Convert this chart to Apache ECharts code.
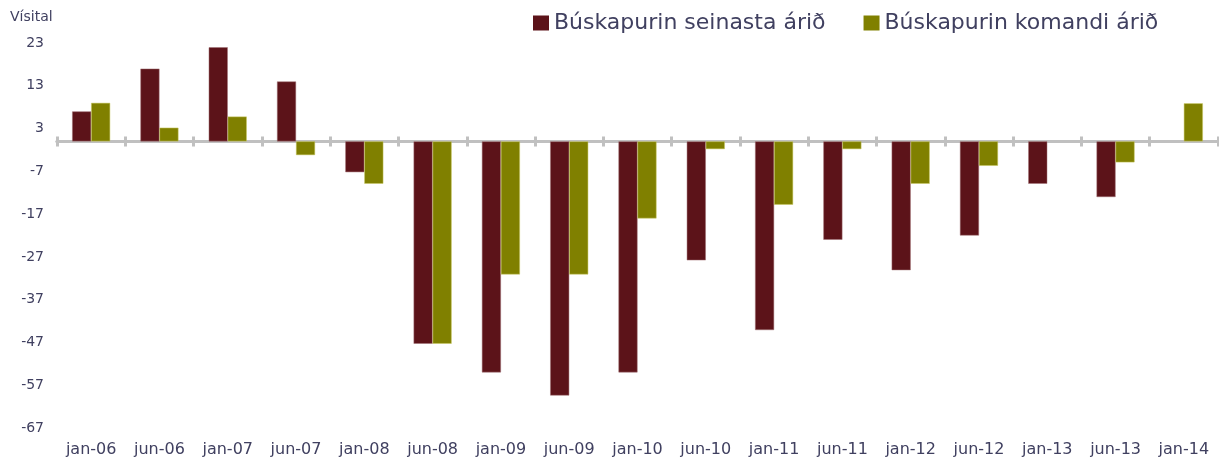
<!DOCTYPE html>
<html>
<head>
<meta charset="utf-8">
<script src="https://cdn.jsdelivr.net/npm/echarts@6/dist/echarts.min.js"></script>
<style>
html,body{margin:0;padding:0;background:#fff;}
#chart{width:1219px;height:461px;}
</style>
</head>
<body>
<div id="chart"></div>
<script>
var categories = ['jan-06','jun-06','jan-07','jun-07','jan-08','jun-08','jan-09','jun-09','jan-10','jun-10','jan-11','jun-11','jan-12','jun-12','jan-13','jun-13','jan-14'];
var seinasta = [7, 17, 22, 14, -7.2, -47.3, -54, -59.4, -54, -27.8, -44.1, -23, -30.1, -22, -9.9, -13, null];
var komandi = [9, 3.2, 5.8, -3.2, -9.9, -47.3, -31.1, -31.1, -18, -1.8, -14.8, -1.8, -9.9, -5.7, null, -4.9, 8.9];
var seriesNames = ['Búskapurin seinasta árið', 'Búskapurin komandi árið'];
var yMin = -67, yMax = 23, yStep = 10;

var textColor = '#404060';
var chart = echarts.init(document.getElementById('chart'));
chart.setOption({
  animation: false,
  title: {
    text: 'Vísital', left: 5, top: 5,
    textStyle: {fontFamily: 'DejaVu Sans', fontSize: 14, fontWeight: 'normal', color: textColor}
  },
  legend: {
    top: 7, left: 528, itemWidth: 16, itemHeight: 15, itemGap: 38, icon: 'rect',
    itemStyle: {borderWidth: 0},
    textStyle: {fontFamily: 'DejaVu Sans', fontSize: 22, color: textColor},
    data: seriesNames
  },
  grid: {left: 57, right: 1, top: 43, bottom: 33, containLabel: false, outerBoundsMode: 'none'},
  xAxis: [
    {
      type: 'category', data: categories, position: 'bottom',
      axisLine: {show: false, onZero: false}, axisTick: {show: false},
      axisLabel: {margin: 14, fontFamily: 'DejaVu Sans', fontSize: 16, color: textColor, interval: 0}
    },
    {
      type: 'category', data: categories, position: 'bottom',
      axisLine: {onZero: true, onZeroAxisIndex: 0, lineStyle: {color: '#c0c0c0', width: 3}},
      axisTick: {show: true, length: 5, lineStyle: {color: '#c0c0c0', width: 3}},
      axisLabel: {show: false}
    },
    {
      type: 'category', data: categories, position: 'top',
      axisLine: {onZero: true, onZeroAxisIndex: 1, lineStyle: {color: '#c0c0c0', width: 3}},
      axisTick: {show: true, length: 5, lineStyle: {color: '#c0c0c0', width: 3}},
      axisLabel: {show: false}
    }
  ],
  yAxis: [
    {
      type: 'value', min: yMin, max: yMax, interval: yStep,
      axisLine: {show: false}, axisTick: {show: false}, splitLine: {show: false},
      axisLabel: {margin: 13, fontFamily: 'DejaVu Sans', fontSize: 14, color: textColor}
    },
    {
      type: 'value', min: yMin, max: yMax, interval: yStep, position: 'right',
      axisLine: {show: false}, axisTick: {show: false}, splitLine: {show: false},
      axisLabel: {show: false}
    }
  ],
  series: [
    {
      name: seriesNames[0], type: 'bar', data: seinasta, barWidth: 19, barGap: '0%',
      xAxisIndex: 0, yAxisIndex: 0,
      itemStyle: {color: '#5c1319', borderColor: '#a07075', borderWidth: 0.5}, z: 1
    },
    {
      name: seriesNames[1], type: 'bar', data: komandi, barWidth: 19, barGap: '0%',
      xAxisIndex: 0, yAxisIndex: 0,
      itemStyle: {color: '#808000', borderColor: '#c8c860', borderWidth: 0.5}, z: 1
    }
  ]
});
</script>
</body>
</html>
